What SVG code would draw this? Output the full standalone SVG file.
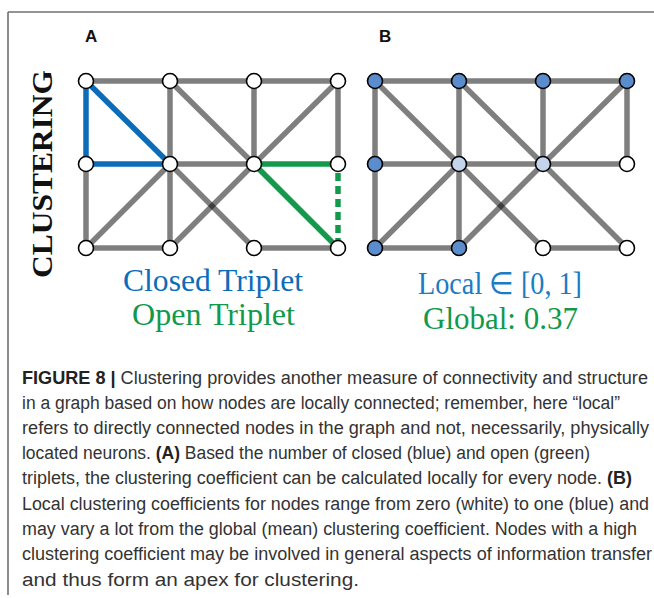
<svg xmlns="http://www.w3.org/2000/svg" width="654" height="598" viewBox="0 0 654 598">
<defs>
<style>
.frame{stroke:#707070;stroke-width:1.6;fill:none}
.e{stroke:#000;stroke-opacity:0.5;stroke-width:5.5;fill:none}
.blue{stroke:#0b6cb9;stroke-width:5.5;fill:none}
.green{stroke:#12994b;stroke-width:5.5;fill:none}
.dash{stroke:#12994b;stroke-width:5.5;fill:none;stroke-dasharray:8 5}
.n{stroke:#000;stroke-width:1.6;fill:#fff}
.nd{stroke:#000;stroke-width:1.6;fill:#5b8ccb}
.nl{stroke:#000;stroke-width:1.6;fill:#c3d4ec}
.lab{font-family:"Liberation Sans",Arial,sans-serif;font-weight:bold;font-size:17px;fill:#111}
.serif{font-family:"Liberation Serif","Times New Roman",serif;font-size:31px}
.cap{font-family:"Liberation Sans Narrow","Liberation Sans",Arial,sans-serif;font-size:18px;fill:#333}
.b{font-weight:bold}
</style>
</defs>
<rect width="654" height="598" fill="#fff"/>
<g id="frame">
<line class="frame" x1="8" y1="12" x2="654" y2="12"/>
<line class="frame" x1="8" y1="12" x2="8" y2="595"/>
</g>
<g id="labels">
<text class="lab" x="85" y="42">A</text>
<text class="lab" x="379" y="42">B</text>
<text transform="translate(52,174) rotate(-90)" text-anchor="middle" font-family="'Liberation Serif','Times New Roman',serif" font-weight="bold" font-size="29" textLength="208" lengthAdjust="spacingAndGlyphs" fill="#111">CLUSTERING</text>
</g>
<g id="connectors-A">
<line class="e" x1="86" y1="81" x2="170" y2="81"/>
<line class="e" x1="170" y1="81" x2="254" y2="81"/>
<line class="e" x1="254" y1="81" x2="338" y2="81"/>
<line class="e" x1="170" y1="81" x2="170" y2="164"/>
<line class="e" x1="170" y1="81" x2="254" y2="164"/>
<line class="e" x1="254" y1="81" x2="254" y2="164"/>
<line class="e" x1="338" y1="81" x2="254" y2="164"/>
<line class="e" x1="338" y1="81" x2="338" y2="164"/>
<line class="e" x1="170" y1="164" x2="254" y2="164"/>
<line class="e" x1="86" y1="164" x2="86" y2="248"/>
<line class="e" x1="86" y1="248" x2="170" y2="164"/>
<line class="e" x1="170" y1="164" x2="170" y2="248"/>
<line class="e" x1="170" y1="164" x2="254" y2="248"/>
<line class="e" x1="170" y1="248" x2="254" y2="164"/>
<line class="e" x1="86" y1="248" x2="170" y2="248"/>
<line class="e" x1="254" y1="248" x2="338" y2="248"/>
<line class="blue" x1="86" y1="81" x2="86" y2="164"/>
<line class="blue" x1="86" y1="81" x2="170" y2="164"/>
<line class="blue" x1="86" y1="164" x2="170" y2="164"/>
<line class="green" x1="254" y1="164" x2="338" y2="164"/>
<line class="green" x1="254" y1="164" x2="338" y2="248"/>
<line class="dash" x1="338" y1="173" x2="338" y2="240"/>
</g>
<g id="connectors-B">
<line class="e" x1="375" y1="81" x2="459" y2="81"/>
<line class="e" x1="459" y1="81" x2="543" y2="81"/>
<line class="e" x1="543" y1="81" x2="627" y2="81"/>
<line class="e" x1="459" y1="81" x2="459" y2="164"/>
<line class="e" x1="459" y1="81" x2="543" y2="164"/>
<line class="e" x1="543" y1="81" x2="543" y2="164"/>
<line class="e" x1="627" y1="81" x2="543" y2="164"/>
<line class="e" x1="627" y1="81" x2="627" y2="164"/>
<line class="e" x1="459" y1="164" x2="543" y2="164"/>
<line class="e" x1="375" y1="164" x2="375" y2="248"/>
<line class="e" x1="375" y1="248" x2="459" y2="164"/>
<line class="e" x1="459" y1="164" x2="459" y2="248"/>
<line class="e" x1="459" y1="164" x2="543" y2="248"/>
<line class="e" x1="459" y1="248" x2="543" y2="164"/>
<line class="e" x1="375" y1="248" x2="459" y2="248"/>
<line class="e" x1="543" y1="248" x2="627" y2="248"/>
<line class="e" x1="375" y1="81" x2="375" y2="164"/>
<line class="e" x1="375" y1="81" x2="459" y2="164"/>
<line class="e" x1="375" y1="164" x2="459" y2="164"/>
<line class="e" x1="543" y1="164" x2="627" y2="164"/>
<line class="e" x1="543" y1="164" x2="627" y2="248"/>
</g>
<g id="nodes-A">
<g id="a00"><circle class="n" cx="86" cy="81" r="7.5"/></g>
<g id="a10"><circle class="n" cx="170" cy="81" r="7.5"/></g>
<g id="a20"><circle class="n" cx="254" cy="81" r="7.5"/></g>
<g id="a30"><circle class="n" cx="338" cy="81" r="7.5"/></g>
<g id="a01"><circle class="n" cx="86" cy="164" r="7.5"/></g>
<g id="a11"><circle class="n" cx="170" cy="164" r="7.5"/></g>
<g id="a21"><circle class="n" cx="254" cy="164" r="7.5"/></g>
<g id="a31"><circle class="n" cx="338" cy="164" r="7.5"/></g>
<g id="a02"><circle class="n" cx="86" cy="248" r="7.5"/></g>
<g id="a12"><circle class="n" cx="170" cy="248" r="7.5"/></g>
<g id="a22"><circle class="n" cx="254" cy="248" r="7.5"/></g>
<g id="a32"><circle class="n" cx="338" cy="248" r="7.5"/></g>
</g>
<g id="nodes-B">
<g id="b00"><circle class="nd" cx="375" cy="81" r="7.5"/></g>
<g id="b10"><circle class="nd" cx="459" cy="81" r="7.5"/></g>
<g id="b20"><circle class="nd" cx="543" cy="81" r="7.5"/></g>
<g id="b30"><circle class="nd" cx="627" cy="81" r="7.5"/></g>
<g id="b01"><circle class="nd" cx="375" cy="164" r="7.5"/></g>
<g id="b11"><circle class="nl" cx="459" cy="164" r="7.5"/></g>
<g id="b21"><circle class="nl" cx="543" cy="164" r="7.5"/></g>
<g id="b31"><circle class="n" cx="627" cy="164" r="7.5"/></g>
<g id="b02"><circle class="nd" cx="375" cy="248" r="7.5"/></g>
<g id="b12"><circle class="nd" cx="459" cy="248" r="7.5"/></g>
<g id="b22"><circle class="n" cx="543" cy="248" r="7.5"/></g>
<g id="b32"><circle class="n" cx="627" cy="248" r="7.5"/></g>
</g>
<g id="legend">
<text class="serif" x="123" y="291" fill="#0b6cb9" textLength="180" lengthAdjust="spacingAndGlyphs">Closed Triplet</text>
<text class="serif" x="132" y="325" fill="#12994b" textLength="163" lengthAdjust="spacingAndGlyphs">Open Triplet</text>
<text class="serif" x="418" y="294" fill="#1a7cc4" textLength="164" lengthAdjust="spacingAndGlyphs">Local ∈ [0, 1]</text>
<text class="serif" x="423" y="329" fill="#12994b" textLength="155" lengthAdjust="spacingAndGlyphs">Global: 0.37</text>
</g>
<g id="caption">
<text class="cap" x="22" y="384" textLength="626" lengthAdjust="spacingAndGlyphs"><tspan class="b" fill="#222">FIGURE 8 |</tspan> Clustering provides another measure of connectivity and structure</text>
<text class="cap" x="22" y="409" textLength="598" lengthAdjust="spacingAndGlyphs">in a graph based on how nodes are locally connected; remember, here “local”</text>
<text class="cap" x="22" y="434" textLength="627" lengthAdjust="spacingAndGlyphs">refers to directly connected nodes in the graph and not, necessarily, physically</text>
<text class="cap" x="22" y="459" textLength="568" lengthAdjust="spacingAndGlyphs">located neurons. <tspan class="b" fill="#222">(A)</tspan> Based the number of closed (blue) and open (green)</text>
<text class="cap" x="22" y="484" textLength="610" lengthAdjust="spacingAndGlyphs">triplets, the clustering coefficient can be calculated locally for every node. <tspan class="b" fill="#222">(B)</tspan></text>
<text class="cap" x="22" y="510" textLength="627" lengthAdjust="spacingAndGlyphs">Local clustering coefficients for nodes range from zero (white) to one (blue) and</text>
<text class="cap" x="22" y="535" textLength="615" lengthAdjust="spacingAndGlyphs">may vary a lot from the global (mean) clustering coefficient. Nodes with a high</text>
<text class="cap" x="22" y="560" textLength="630" lengthAdjust="spacingAndGlyphs">clustering coefficient may be involved in general aspects of information transfer</text>
<text class="cap" x="22" y="586" textLength="337" lengthAdjust="spacingAndGlyphs">and thus form an apex for clustering.</text>
</g>
</svg>
